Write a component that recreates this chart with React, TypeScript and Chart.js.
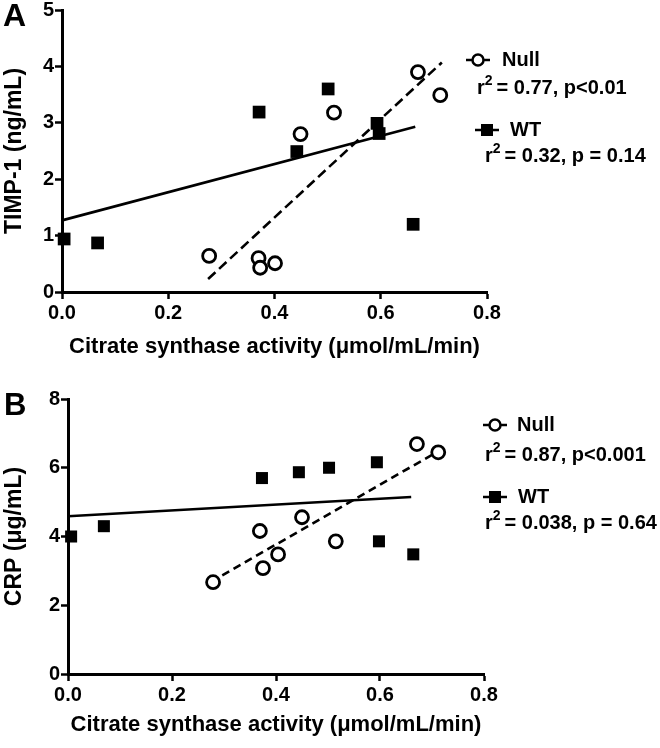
import React, { useEffect, useRef } from "react";
import { Chart, registerables } from "chart.js";
Chart.register(...registerables);

const FONT = '"Liberation Sans", Arial, Helvetica, sans-serif';

// ---------- shared ----------
const xTickValues = [0, 0.2, 0.4, 0.6, 0.8];
const xAxisTitle = "Citrate synthase activity (\u03bcmol/mL/min)";
const seriesNames = ["Null", "WT"];

// ---------- Panel A : TIMP-1 ----------
const nullXA = [0.277, 0.37, 0.373, 0.401, 0.449, 0.512, 0.67, 0.712];
const nullYA = [0.64, 0.6, 0.43, 0.51, 2.8, 3.18, 3.9, 3.49];
const wtXA = [0.004, 0.067, 0.371, 0.442, 0.501, 0.593, 0.597, 0.661];
const wtYA = [0.94, 0.87, 3.19, 2.49, 3.6, 2.99, 2.81, 1.2];
const nullFitXA = [0.275, 0.715];
const nullFitYA = [0.23, 4.07];
const wtFitXA = [0, 0.665];
const wtFitYA = [1.27, 2.93];
const yTicksA = [0, 1, 2, 3, 4, 5];
const yTitleA = "TIMP-1 (ng/mL)";
const statsA = ["= 0.77, p<0.01", "= 0.32, p = 0.14"];

// ---------- Panel B : CRP ----------
const nullXB = [0.279, 0.369, 0.375, 0.404, 0.45, 0.515, 0.671, 0.712];
const nullYB = [2.67, 4.16, 3.08, 3.48, 4.56, 3.86, 6.69, 6.45];
const wtXB = [0.006, 0.069, 0.373, 0.444, 0.502, 0.594, 0.598, 0.664];
const wtYB = [4.0, 4.3, 5.7, 5.87, 6.0, 6.16, 3.86, 3.48];
const nullFitXB = [0.275, 0.712];
const nullFitYB = [2.68, 6.48];
const wtFitXB = [0, 0.66];
const wtFitYB = [4.59, 5.15];
const yTicksB = [0, 2, 4, 6, 8];
const yTitleB = "CRP (\u03bcg/mL)";
const statsB = ["= 0.87, p<0.001", "= 0.038, p = 0.64"];

const zip = (xs: number[], ys: number[]) => xs.map((x, i) => ({ x, y: ys[i] }));

const annotPlugin = {
  id: "panelAnnot",
  afterDraw(chart: any, _args: any, opts: any) {
    const ctx = chart.ctx as CanvasRenderingContext2D;
    ctx.save();
    ctx.fillStyle = "#000";
    ctx.strokeStyle = "#000";
    ctx.textAlign = "left";
    ctx.textBaseline = "middle";
    ctx.font = `bold ${opts.letterSize}px ${FONT}`;
    ctx.fillText(opts.letter, opts.letterX, opts.letterY);
    opts.items.forEach((it: any) => {
      ctx.lineWidth = 2.5;
      ctx.beginPath();
      ctx.moveTo(it.mx - 12, it.my);
      ctx.lineTo(it.mx + 12, it.my);
      ctx.stroke();
      if (it.marker === "circle") {
        ctx.beginPath();
        ctx.arc(it.mx, it.my, 5.5, 0, Math.PI * 2);
        ctx.fillStyle = "#fff";
        ctx.fill();
        ctx.lineWidth = 2.5;
        ctx.stroke();
        ctx.fillStyle = "#000";
      } else {
        ctx.fillRect(it.mx - 6, it.my - 6, 12, 12);
      }
      ctx.font = `bold 20px ${FONT}`;
      ctx.fillText(it.label, it.tx, it.my);
      let x = it.sx;
      ctx.fillText("r", x, it.sy);
      x += ctx.measureText("r").width;
      ctx.font = `bold 14px ${FONT}`;
      ctx.fillText("2", x, it.sy - 7);
      x += ctx.measureText("2").width + 4;
      ctx.font = `bold 20px ${FONT}`;
      ctx.fillText(it.stat, x, it.sy);
    });
    ctx.restore();
  },
};

type PanelCfg = {
  nullPts: { x: number; y: number }[];
  wtPts: { x: number; y: number }[];
  nullFit: { x: number; y: number }[];
  wtFit: { x: number; y: number }[];
  yTicks: number[];
  yTitle: string;
  yAxisWidth: number;
  xAxisHeight: number;
  padTop: number;
  padRight: number;
  xTitlePadBottom: number;
  circleR: number;
  squareR: number;
  dash: number[];
  annot: any;
};

function buildConfig(c: PanelCfg): any {
  const yMax = c.yTicks[c.yTicks.length - 1];
  const yStep = c.yTicks[1] - c.yTicks[0];
  return {
    type: "scatter",
    data: {
      datasets: [
        {
          label: seriesNames[1] + " fit",
          data: c.wtFit,
          showLine: true,
          borderColor: "#000",
          borderWidth: 2.6,
          pointRadius: 0,
          clip: false,
          order: 3,
        },
        {
          label: seriesNames[0] + " fit",
          data: c.nullFit,
          showLine: true,
          borderColor: "#000",
          borderWidth: 2.6,
          borderDash: c.dash,
          pointRadius: 0,
          clip: false,
          order: 2,
        },
        {
          label: seriesNames[1],
          data: c.wtPts,
          pointStyle: "rect",
          pointRadius: c.squareR,
          backgroundColor: "#000",
          borderColor: "#000",
          borderWidth: 0,
          clip: false,
          order: 1,
        },
        {
          label: seriesNames[0],
          data: c.nullPts,
          pointStyle: "circle",
          pointRadius: c.circleR,
          backgroundColor: "#fff",
          borderColor: "#000",
          borderWidth: 2.8,
          clip: false,
          order: 0,
        },
      ],
    },
    options: {
      responsive: false,
      animation: false,
      layout: { padding: { top: c.padTop, right: c.padRight, bottom: 0, left: 0 } },
      plugins: {
        legend: { display: false },
        tooltip: { enabled: false },
        panelAnnot: c.annot,
      },
      scales: {
        x: {
          type: "linear",
          min: 0,
          max: 0.8,
          afterBuildTicks: (s: any) => {
            s.ticks = xTickValues.map((v) => ({ value: v }));
          },
          afterFit: (s: any) => {
            s.height = c.xAxisHeight;
            s.paddingLeft = 0;
            s.paddingRight = 0;
          },
          grid: {
            drawOnChartArea: false,
            drawTicks: true,
            tickLength: 7,
            tickWidth: 2.5,
            color: "#000",
          },
          border: { display: true, color: "#000", width: 3 },
          ticks: {
            color: "#000",
            padding: 2,
            maxRotation: 0,
            font: { family: FONT, size: 20, weight: "bold" },
            callback: (v: any) => Number(v).toFixed(1),
          },
          title: {
            display: true,
            text: xAxisTitle,
            color: "#000",
            font: { family: FONT, size: 22, weight: "bold" },
            padding: { top: 0, bottom: c.xTitlePadBottom },
          },
        },
        y: {
          type: "linear",
          min: 0,
          max: yMax,
          ticks: {
            stepSize: yStep,
            color: "#000",
            padding: 1,
            font: { family: FONT, size: 20, weight: "bold" },
            callback: (v: any) => String(v),
          },
          afterFit: (s: any) => {
            s.width = c.yAxisWidth;
            s.paddingTop = 0;
            s.paddingBottom = 0;
          },
          grid: {
            drawOnChartArea: false,
            drawTicks: true,
            tickLength: 7,
            tickWidth: 2.5,
            color: "#000",
          },
          border: { display: true, color: "#000", width: 3 },
          title: {
            display: true,
            text: c.yTitle,
            color: "#000",
            font: { family: FONT, size: 23, weight: "bold" },
            padding: { top: 1, bottom: 0 },
          },
        },
      },
    },
    plugins: [annotPlugin],
  };
}

function Panel({ cfg, top }: { cfg: PanelCfg; top: number }) {
  const ref = useRef<HTMLCanvasElement | null>(null);
  useEffect(() => {
    if (!ref.current) return;
    const chart = new Chart(ref.current, buildConfig(cfg));
    return () => chart.destroy();
  }, []);
  return (
    <canvas
      ref={ref}
      width={660}
      height={374}
      style={{ position: "absolute", left: 0, top, width: 660, height: 374 }}
    />
  );
}

const panelA: PanelCfg = {
  nullPts: zip(nullXA, nullYA),
  wtPts: zip(wtXA, wtYA),
  nullFit: zip(nullFitXA, nullFitYA),
  wtFit: zip(wtFitXA, wtFitYA),
  yTicks: yTicksA,
  yTitle: yTitleA,
  yAxisWidth: 62,
  xAxisHeight: 82,
  padTop: 10,
  padRight: 173,
  xTitlePadBottom: 14,
  circleR: 6.5,
  squareR: 9,
  dash: [10, 5],
  annot: {
    letter: "A",
    letterSize: 32,
    letterX: 3,
    letterY: 17,
    items: [
      { label: seriesNames[0], stat: statsA[0], marker: "circle", mx: 478, my: 60, tx: 502, sx: 477, sy: 88 },
      { label: seriesNames[1], stat: statsA[1], marker: "rect", mx: 487, my: 130, tx: 510, sx: 485, sy: 156 },
    ],
  },
};

const panelB: PanelCfg = {
  nullPts: zip(nullXB, nullYB),
  wtPts: zip(wtXB, wtYB),
  nullFit: zip(nullFitXB, nullFitYB),
  wtFit: zip(wtFitXB, wtFitYB),
  yTicks: yTicksB,
  yTitle: yTitleB,
  yAxisWidth: 68,
  xAxisHeight: 74,
  padTop: 25,
  padRight: 176,
  xTitlePadBottom: 10,
  circleR: 6.5,
  squareR: 8.5,
  dash: [8, 5],
  annot: {
    letter: "B",
    letterSize: 31,
    letterX: 4,
    letterY: 32,
    items: [
      { label: seriesNames[0], stat: statsB[0], marker: "circle", mx: 495, my: 51, tx: 517, sx: 485, sy: 81 },
      { label: seriesNames[1], stat: statsB[1], marker: "rect", mx: 495, my: 123, tx: 518, sx: 485, sy: 149 },
    ],
  },
};

export default function App() {
  return (
    <div style={{ position: "absolute", left: 0, top: 0, width: 660, height: 748, background: "#fff" }}>
      <Panel cfg={panelA} top={0} />
      <Panel cfg={panelB} top={374} />
    </div>
  );
}
